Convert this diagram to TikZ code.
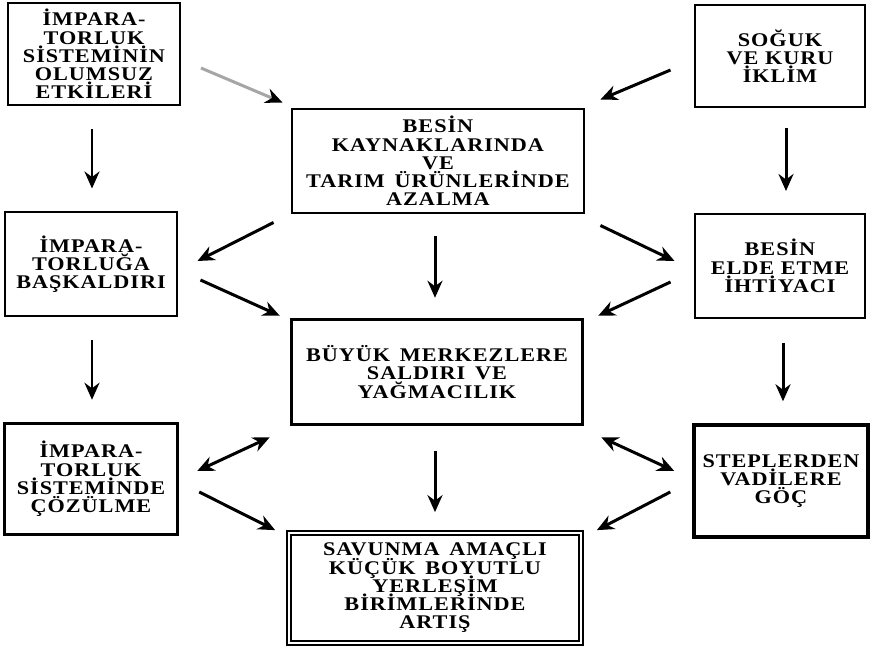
\documentclass[tikz,border=0pt]{standalone}
\usepackage{fontspec}
\setmainfont{Liberation Serif}
\usetikzlibrary{arrows.meta, positioning}
\setlength{\lineskiplimit}{-20pt}
\setlength{\lineskip}{0pt}
\newcommand{\boxfont}{\fontsize{11}{10.4}\selectfont\bfseries\addfontfeature{FakeStretch=1.15, LetterSpace=5}}

\begin{document}
\begin{tikzpicture}[x=0.02cm, y=-0.02cm, >={Stealth[length=3.4mm, width=3mm]}]
      % Define the style for the boxes
      \tikzstyle{every node}=[draw, line width=0.04cm, align=center, inner sep=0pt, font=\boxfont]
      \tikzstyle{thickbox}=[line width=0.07cm]
      \tikzstyle{doublebox}=[double, line width=0.035cm, double distance=0.05cm]
      \tikzstyle{arr}=[->, line width=0.06cm]
      \tikzstyle{biarr}=[<->, line width=0.06cm]

      \useasboundingbox (0,0) rectangle (877,650);

      % Left column
      \node[minimum width=3.44cm, minimum height=2.04cm] (imp) at (94,54)
        {İMPARA-\\TORLUK\\SİSTEMİNİN\\OLUMSUZ\\ETKİLERİ};
      \node[minimum width=3.46cm, minimum height=2.1cm] (bask) at (91,264)
        {İMPARA-\\TORLUĞA\\BAŞKALDIRI};
      \node[thickbox, minimum width=3.46cm, minimum height=2.22cm] (cozulme) at (91,479)
        {İMPARA-\\TORLUK\\SİSTEMİNDE\\ÇÖZÜLME};

      % Right column
      \node[minimum width=3.42cm, minimum height=2.06cm] (soguk) at (780,56)
        {SOĞUK\\VE KURU\\İKLİM};
      \node[minimum width=3.42cm, minimum height=2.08cm] (ihtiyac) at (780,266)
        {BESİN\\ELDE ETME\\İHTİYACI};
      \node[thickbox, minimum width=3.48cm, minimum height=2.24cm] (goc) at (781,481)
        {STEPLERDEN\\VADİLERE\\GÖÇ};

      % Middle column
      \node[minimum width=5.86cm, minimum height=2.1cm] (besin) at (438,161)
        {BESİN\\KAYNAKLARINDA\\VE\\TARIM\, ÜRÜNLERİNDE\\AZALMA};
      \node[thickbox, minimum width=5.82cm, minimum height=2.1cm] (saldiri) at (437,372)
        {BÜYÜK\, MERKEZLERE\\SALDIRI\, VE\\YAĞMACILIK};
      \node[doublebox, minimum width=5.84cm, minimum height=2.2cm] (artis) at (435,588)
        {SAVUNMA\, AMAÇLI\\KÜÇÜK\, BOYUTLU\\YERLEŞİM\\BİRİMLERİNDE\\ARTIŞ};

      \tikzstyle{every node}=[]

      % Arrows
      \draw[arr, draw=black!35, -{Stealth[length=3.4mm, width=3mm, black]}]
        ([shift={(20,14)}]imp.east) -- ([shift={(-8,-5)}]besin.north west);
      \draw[arr] ([shift={(-23,14)}]soguk.west) -- ([shift={(15,-8)}]besin.north east);
      \draw[arr] ([shift={(-2,23)}]imp.south) -- ([shift={(1,-22)}]bask.north);
      \draw[arr] ([shift={(6,20)}]soguk.south) -- ([shift={(6,-22)}]ihtiyac.north);
      \draw[arr] ([shift={(-3,22)}]besin.south) -- ([shift={(-2,-20)}]saldiri.north);
      \draw[arr] ([shift={(-17,8)}]besin.south west) -- ([shift={(19,-3)}]bask.east);
      \draw[arr] ([shift={(15,11)}]besin.south east) -- ([shift={(-19,-5)}]ihtiyac.west);
      \draw[arr] ([shift={(22,16)}]bask.east) -- ([shift={(-10,-2)}]saldiri.north west);
      \draw[arr] ([shift={(-23,16)}]ihtiyac.west) -- ([shift={(14,-2)}]saldiri.north east);
      \draw[arr] ([shift={(1,23)}]bask.south) -- ([shift={(1,-22)}]cozulme.north);
      \draw[arr] ([shift={(3,24)}]ihtiyac.south) -- ([shift={(2,-22)}]goc.north);
      \draw[arr] ([shift={(-2,25)}]saldiri.south) -- ([shift={(0,-20)}]artis.north);
      \draw[biarr] ([shift={(-20,11)}]saldiri.south west) -- ([shift={(18,-8)}]cozulme.east);
      \draw[biarr] ([shift={(17,11)}]saldiri.south east) -- ([shift={(-18,-10)}]goc.west);
      \draw[arr] ([shift={(20,13)}]cozulme.east) -- ([shift={(-13,-2)}]artis.north west);
      \draw[arr] ([shift={(-22,11)}]goc.west) -- ([shift={(15,-2)}]artis.north east);

    \end{tikzpicture}
\end{document}
